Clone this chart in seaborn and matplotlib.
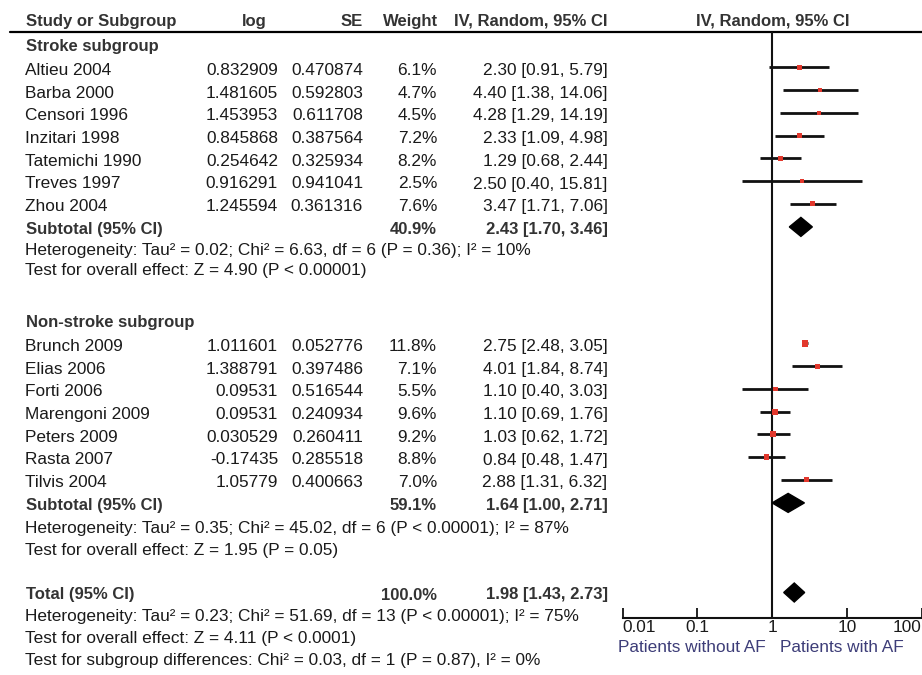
import numpy as np
import pandas as pd
import seaborn as sns
import matplotlib.pyplot as plt

sns.set_style('white')
plt.rcParams['font.family'] = ['Liberation Sans', 'DejaVu Sans']

# ---- data ----
stroke_names = ['Altieu 2004', 'Barba 2000', 'Censori 1996', 'Inzitari 1998',
                'Tatemichi 1990', 'Treves 1997', 'Zhou 2004']
stroke_log = [0.832909, 1.481605, 1.453953, 0.845868, 0.254642, 0.916291, 1.245594]
stroke_se = [0.470874, 0.592803, 0.611708, 0.387564, 0.325934, 0.941041, 0.361316]
stroke_weight = [6.1, 4.7, 4.5, 7.2, 8.2, 2.5, 7.6]
stroke_est = [2.30, 4.40, 4.28, 2.33, 1.29, 2.50, 3.47]
stroke_lo = [0.91, 1.38, 1.29, 1.09, 0.68, 0.40, 1.71]
stroke_hi = [5.79, 14.06, 14.19, 4.98, 2.44, 15.81, 7.06]

nonstroke_names = ['Brunch 2009', 'Elias 2006', 'Forti 2006', 'Marengoni 2009',
                   'Peters 2009', 'Rasta 2007', 'Tilvis 2004']
nonstroke_log = [1.011601, 1.388791, 0.09531, 0.09531, 0.030529, -0.17435, 1.05779]
nonstroke_se = [0.052776, 0.397486, 0.516544, 0.240934, 0.260411, 0.285518, 0.400663]
nonstroke_weight = [11.8, 7.1, 5.5, 9.6, 9.2, 8.8, 7.0]
nonstroke_est = [2.75, 4.01, 1.10, 1.10, 1.03, 0.84, 2.88]
nonstroke_lo = [2.48, 1.84, 0.40, 0.69, 0.62, 0.48, 1.31]
nonstroke_hi = [3.05, 8.74, 3.03, 1.76, 1.72, 1.47, 6.32]

# subtotal rows: stroke, non-stroke, total
summary_labels = ['Subtotal (95% CI)', 'Subtotal (95% CI)', 'Total (95% CI)']
summary_weight = [40.9, 59.1, 100.0]
summary_est = [2.43, 1.64, 1.98]
summary_lo = [1.70, 1.00, 1.43]
summary_hi = [3.46, 2.71, 2.73]

stroke_stats = ['Heterogeneity: Tau² = 0.02; Chi² = 6.63, df = 6 (P = 0.36); I² = 10%',
                'Test for overall effect: Z = 4.90 (P < 0.00001)']
nonstroke_stats = ['Heterogeneity: Tau² = 0.35; Chi² = 45.02, df = 6 (P < 0.00001); I² = 87%',
                   'Test for overall effect: Z = 1.95 (P = 0.05)']
total_stats = ['Heterogeneity: Tau² = 0.23; Chi² = 51.69, df = 13 (P < 0.00001); I² = 75%',
               'Test for overall effect: Z = 4.11 (P < 0.0001)',
               'Test for subgroup differences: Chi² = 0.03, df = 1 (P = 0.87), I² = 0%']

xticks = [0.01, 0.1, 1, 10, 100]
xtick_labels = ['0.01', '0.1', '1', '10', '100']

# ---- layout (pixel rows) ----
W, H = 922, 675
step = 22.7
stroke_y = [70.5 + i * step for i in range(7)]
nonstroke_y = [346.5 + i * step for i in range(7)]
summary_y = [229.4, 505.4, 595]

txt = '#1a1a1a'
bold_c = '#333333'
fs = 12.4

fig = plt.figure(figsize=(W / 100, H / 100), dpi=100)
tax = fig.add_axes([0, 0, 1, 1])
tax.set_xlim(0, W)
tax.set_ylim(H, 0)
tax.axis('off')

def t(x, y, s, ha='left', bold=False, color=None, size=fs):
    tax.text(x, y, s, ha=ha, va='center', fontsize=size,
             fontweight='bold' if bold else 'normal',
             color=color or (bold_c if bold else txt))

# header
t(26, 21.5, 'Study or Subgroup', bold=True, size=12)
t(254, 21.5, 'log', ha='center', bold=True, size=12)
t(363, 21.5, 'SE', ha='right', bold=True, size=12)
t(438, 21.5, 'Weight', ha='right', bold=True, size=12)
t(607, 21.5, 'IV, Random, 95% CI', ha='right', bold=True, size=12)
t(773, 21.5, 'IV, Random, 95% CI', ha='center', bold=True, size=12)
tax.plot([10, W], [32, 32], color='black', lw=1.6)

def study_block(names, logs, ses, weights, est, lo, hi, ys):
    for n, l, s, w, e, a, b, y in zip(names, logs, ses, weights, est, lo, hi, ys):
        t(25, y, n)
        t(278, y, str(l), ha='right')
        t(363, y, str(s), ha='right')
        t(437, y, f'{w:.1f}%', ha='right')
        t(607.5, y, f'{e:.2f} [{a:.2f}, {b:.2f}]', ha='right')

t(26, 46.5, 'Stroke subgroup', bold=True, size=12)
study_block(stroke_names, stroke_log, stroke_se, stroke_weight,
            stroke_est, stroke_lo, stroke_hi, stroke_y)
t(26, 322, 'Non-stroke subgroup', bold=True, size=12)
study_block(nonstroke_names, nonstroke_log, nonstroke_se, nonstroke_weight,
            nonstroke_est, nonstroke_lo, nonstroke_hi, nonstroke_y)

for lab, w, e, a, b, y in zip(summary_labels, summary_weight, summary_est,
                              summary_lo, summary_hi, summary_y):
    t(26, y, lab, bold=True, size=12)
    t(437, y, f'{w:.1f}%', ha='right', bold=True, size=12)
    t(607.5, y, f'{e:.2f} [{a:.2f}, {b:.2f}]', ha='right', bold=True, size=12)

for s, y in zip(stroke_stats, [250, 271]):
    t(25, y, s)
for s, y in zip(nonstroke_stats, [528, 550]):
    t(25, y, s)
for s, y in zip(total_stats, [617, 639, 661]):
    t(25, y, s)

# ---- forest panel ----
x0, x1 = 622.7, 921.5
ytop, ybot = 32, 618.3
fax = fig.add_axes([x0 / W, (H - ybot) / H, (x1 - x0) / W, (ybot - ytop) / H])
fax.patch.set_visible(False)

df = pd.DataFrame({
    'est': stroke_est + nonstroke_est,
    'lo': stroke_lo + nonstroke_lo,
    'hi': stroke_hi + nonstroke_hi,
    'weight': stroke_weight + nonstroke_weight,
    'ypos': [y - 3 for y in stroke_y + nonstroke_y],
})

fax.hlines(df['ypos'], df['lo'], df['hi'], color='#111111', lw=2.0, zorder=2)
sns.scatterplot(data=df, x='est', y='ypos', size='weight', sizes=(6, 22),
                marker='s', color='#e2382d', edgecolor='none', legend=False,
                ax=fax, zorder=3)

for e, a, b, y in zip(summary_est, summary_lo, summary_hi, summary_y):
    yc = y - 2.5
    fax.fill([a, e, b, e], [yc, yc - 9.5, yc, yc + 9.5], color='black', zorder=3)

fax.axvline(1, color='#111111', lw=1.5, zorder=1)
fax.set_xscale('log')
fax.set_xlim(0.01, 100)
fax.set_ylim(ybot, ytop)
fax.set_xlabel('')
fax.set_ylabel('')
fax.set_yticks([])
fax.set_xticks(xticks)
fax.set_xticklabels(xtick_labels, fontsize=fs, color=txt)
fax.minorticks_off()
fax.tick_params(axis='x', direction='in', length=7, width=1.3, pad=1.5,
                color='#111111', bottom=True)
labs = fax.get_xticklabels()
labs[0].set_ha('left')
labs[-1].set_ha('right')
for side in ['top', 'left', 'right']:
    fax.spines[side].set_visible(False)
fax.spines['bottom'].set_linewidth(1.5)
fax.spines['bottom'].set_color('#111111')

t(692, 647, 'Patients without AF', ha='center', color='#3d3d78')
t(842, 647, 'Patients with AF', ha='center', color='#3d3d78')

fig.savefig('out.png', dpi=100)
